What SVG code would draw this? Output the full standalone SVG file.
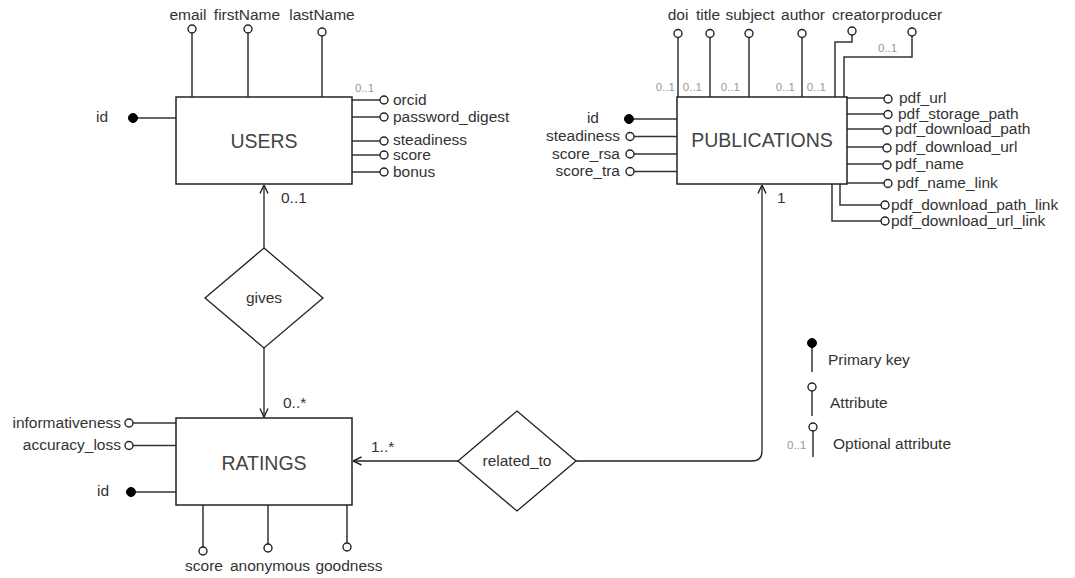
<svg xmlns="http://www.w3.org/2000/svg" width="1075" height="578" viewBox="0 0 1075 578">
<defs>
<marker id="open" viewBox="0 0 10 10" refX="9.5" refY="5" markerWidth="10" markerHeight="10" markerUnits="userSpaceOnUse" orient="auto">
<path d="M1,1 L9.5,5 L1,9" fill="none" stroke="#222" stroke-width="1.4"/>
</marker>
</defs>
<style>
text{font-family:"Liberation Sans",Arial,sans-serif;font-size:15.5px;fill:#333}
.ent{font-size:19.5px;fill:#444;text-anchor:middle}
.mid{text-anchor:middle}
.end{text-anchor:end}
.opt{font-size:11.5px;fill:#999}
.box{fill:#fff;stroke:#222;stroke-width:1.5}
.rel{fill:#fff;stroke:#222;stroke-width:1.3}
.ln{fill:none;stroke:#333;stroke-width:1.5}
.ac{fill:#fff;stroke:#222;stroke-width:1.4}
.pk{fill:#000;stroke:#000;stroke-width:1}
.con{fill:none;stroke:#222;stroke-width:1.3}
</style>
<rect width="1075" height="578" fill="#fff"/>

<g id="connectors">
<line class="con" x1="264" y1="248" x2="264" y2="185" marker-end="url(#open)"/>
<text x="281" y="203">0..1</text>
<line class="con" x1="264" y1="348" x2="264" y2="417" marker-end="url(#open)"/>
<text x="283" y="408">0..*</text>
<line class="con" x1="458" y1="461" x2="353" y2="461" marker-end="url(#open)"/>
<text x="371" y="452">1..*</text>
<path class="con" d="M576,461 H752 Q762,461 762,451 V185" marker-end="url(#open)"/>
<text x="777" y="203">1</text>
</g>

<g id="users">
<line class="ln" x1="192" y1="33" x2="192" y2="97"/>
<circle class="ac" cx="192" cy="29" r="4"/>
<text class="mid" x="188" y="20">email</text>
<line class="ln" x1="248" y1="33" x2="248" y2="97"/>
<circle class="ac" cx="248" cy="29" r="4"/>
<text class="mid" x="247" y="20">firstName</text>
<line class="ln" x1="322" y1="36" x2="322" y2="97"/>
<circle class="ac" cx="322" cy="32" r="4"/>
<text class="mid" x="322" y="20">lastName</text>
<line class="ln" x1="137" y1="118" x2="176" y2="118"/>
<circle class="pk" cx="133" cy="118" r="4.5"/>
<text x="96" y="122">id</text>
<line class="ln" x1="352" y1="100" x2="380" y2="100"/>
<circle class="ac" cx="384" cy="100" r="4"/>
<text x="393" y="104.5">orcid</text>
<text class="opt" x="355" y="92">0..1</text>
<line class="ln" x1="352" y1="117" x2="380" y2="117"/>
<circle class="ac" cx="384" cy="117" r="4"/>
<text x="393" y="121.5">password_digest</text>
<line class="ln" x1="352" y1="141" x2="380" y2="141"/>
<circle class="ac" cx="384" cy="141" r="4"/>
<text x="393" y="144.5">steadiness</text>
<line class="ln" x1="352" y1="155" x2="380" y2="155"/>
<circle class="ac" cx="384" cy="155" r="4"/>
<text x="393" y="160">score</text>
<line class="ln" x1="352" y1="172" x2="380" y2="172"/>
<circle class="ac" cx="384" cy="172" r="4"/>
<text x="393" y="176.5">bonus</text>
<rect class="box" x="176" y="97" width="176" height="87"/>
<text class="ent" x="264" y="148">USERS</text>
</g>

<g id="gives">
<polygon class="rel" points="264,248 323,298 264,348 205,298"/>
<text class="mid" x="264" y="303">gives</text>
</g>

<g id="ratings">
<line class="ln" x1="133" y1="423" x2="176" y2="423"/>
<circle class="ac" cx="129" cy="423" r="4"/>
<text class="end" x="121" y="427.5">informativeness</text>
<line class="ln" x1="133" y1="445.5" x2="176" y2="445.5"/>
<circle class="ac" cx="129" cy="445.5" r="4"/>
<text class="end" x="121" y="450">accuracy_loss</text>
<line class="ln" x1="135" y1="492" x2="176" y2="492"/>
<circle class="pk" cx="131" cy="492" r="4.5"/>
<text x="97" y="496">id</text>
<line class="ln" x1="203" y1="505" x2="203" y2="547"/>
<circle class="ac" cx="203" cy="551" r="4"/>
<line class="ln" x1="268" y1="505" x2="268" y2="544"/>
<circle class="ac" cx="268" cy="548" r="4"/>
<line class="ln" x1="347" y1="505" x2="347" y2="543"/>
<circle class="ac" cx="347" cy="547" r="4"/>
<text class="mid" x="204" y="571">score</text>
<text class="mid" x="270" y="571">anonymous</text>
<text class="mid" x="349" y="571">goodness</text>
<rect class="box" x="176" y="418" width="176" height="87"/>
<text class="ent" x="264" y="470">RATINGS</text>
</g>

<g id="related_to">
<polygon class="rel" points="517,411 576,461 517,511 458,461"/>
<text class="mid" x="517" y="466">related_to</text>
</g>

<g id="publications">
<line class="ln" x1="678" y1="37.5" x2="678" y2="97"/>
<circle class="ac" cx="678" cy="33.5" r="4"/>
<text class="mid" x="678" y="20">doi</text>
<text class="opt end" x="675" y="91">0..1</text>
<line class="ln" x1="710" y1="37.5" x2="710" y2="97"/>
<circle class="ac" cx="710" cy="33.5" r="4"/>
<text class="mid" x="708" y="20">title</text>
<text class="opt end" x="702" y="91">0..1</text>
<line class="ln" x1="749" y1="37.5" x2="749" y2="97"/>
<circle class="ac" cx="749" cy="33.5" r="4"/>
<text class="mid" x="750" y="20">subject</text>
<text class="opt end" x="740" y="91">0..1</text>
<line class="ln" x1="802" y1="37.5" x2="802" y2="97"/>
<circle class="ac" cx="802" cy="33.5" r="4"/>
<text class="mid" x="803" y="20">author</text>
<text class="opt end" x="795" y="91">0..1</text>
<path class="ln" d="M852,35 V42 H835 V97"/>
<circle class="ac" cx="852" cy="31" r="4"/>
<text class="mid" x="856" y="20">creator</text>
<text class="opt end" x="826" y="91">0..1</text>
<path class="ln" d="M912,36 V57 H844 V97"/>
<circle class="ac" cx="912" cy="32" r="4"/>
<text x="881" y="20">producer</text>
<text class="opt" x="878" y="52">0..1</text>
<line class="ln" x1="633" y1="119" x2="677" y2="119"/>
<circle class="pk" cx="629" cy="119" r="4.5"/>
<text class="end" x="599" y="123">id</text>
<line class="ln" x1="634" y1="136.5" x2="677" y2="136.5"/>
<circle class="ac" cx="630" cy="136.5" r="4"/>
<text class="end" x="620" y="141">steadiness</text>
<line class="ln" x1="634" y1="154" x2="677" y2="154"/>
<circle class="ac" cx="630" cy="154" r="4"/>
<text class="end" x="620" y="158.5">score_rsa</text>
<line class="ln" x1="634" y1="171.5" x2="677" y2="171.5"/>
<circle class="ac" cx="630" cy="171.5" r="4"/>
<text class="end" x="620" y="176">score_tra</text>
<line class="ln" x1="847" y1="98" x2="884" y2="98"/>
<circle class="ac" cx="888" cy="99" r="4"/>
<text x="899" y="103">pdf_url</text>
<line class="ln" x1="847" y1="114" x2="884" y2="114"/>
<circle class="ac" cx="888" cy="114.5" r="4"/>
<text x="898" y="118.5">pdf_storage_path</text>
<line class="ln" x1="847" y1="129" x2="883" y2="129"/>
<circle class="ac" cx="887" cy="130" r="4"/>
<text x="895" y="134">pdf_download_path</text>
<line class="ln" x1="847" y1="147" x2="883" y2="147"/>
<circle class="ac" cx="887" cy="148" r="4"/>
<text x="895" y="152">pdf_download_url</text>
<line class="ln" x1="847" y1="164" x2="883" y2="164"/>
<circle class="ac" cx="887" cy="165" r="4"/>
<text x="895" y="169">pdf_name</text>
<line class="ln" x1="847" y1="183" x2="884" y2="183"/>
<circle class="ac" cx="888" cy="183.5" r="4"/>
<text x="897" y="187.5">pdf_name_link</text>
<path class="ln" d="M840,184 V205 H881"/>
<circle class="ac" cx="885" cy="205" r="4"/>
<text x="891" y="209.5">pdf_download_path_link</text>
<path class="ln" d="M832,184 V221 H881"/>
<circle class="ac" cx="885" cy="221" r="4"/>
<text x="891" y="225.5">pdf_download_url_link</text>
<rect class="box" x="677" y="97" width="170" height="87"/>
<text class="ent" x="762" y="147">PUBLICATIONS</text>
</g>

<g id="legend">
<line class="ln" x1="812" y1="347" x2="812" y2="372" stroke="#555"/>
<circle class="pk" cx="812" cy="343" r="4.5"/>
<text x="828" y="365">Primary key</text>
<line class="ln" x1="812" y1="391" x2="812" y2="416"/>
<circle class="ac" cx="812" cy="387" r="4"/>
<text x="830" y="408">Attribute</text>
<line class="ln" x1="813" y1="431" x2="813" y2="457"/>
<circle class="ac" cx="813" cy="427" r="4"/>
<text class="opt" x="787" y="449">0..1</text>
<text x="833" y="449">Optional attribute</text>
</g>
</svg>
